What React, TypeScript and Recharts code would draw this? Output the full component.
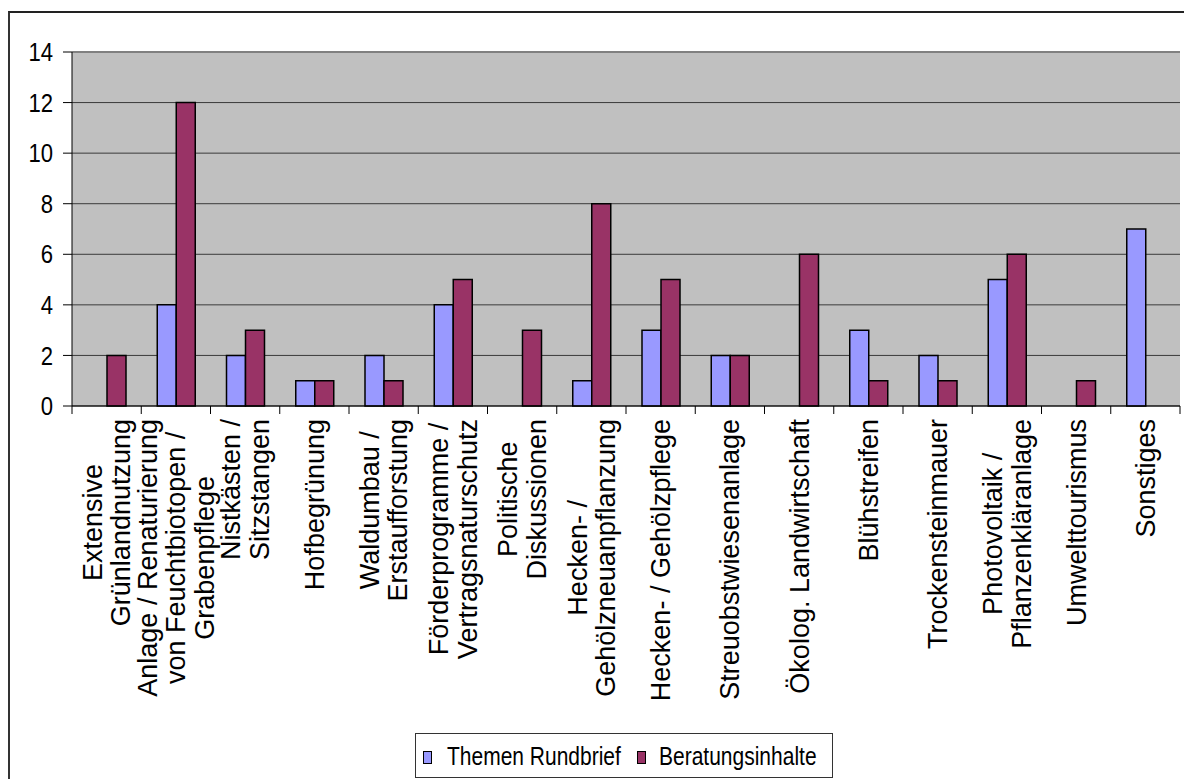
import React from "react";
import {
  BarChart,
  Bar,
  XAxis,
  YAxis,
  CartesianGrid,
  ReferenceLine,
} from "recharts";

// ---------- data ----------
const categories: string[] = [
  "Extensive\nGrünlandnutzung",
  "Anlage / Renaturierung\nvon Feuchtbiotopen /\nGrabenpflege",
  "Nistkästen /\nSitzstangen",
  "Hofbegrünung",
  "Waldumbau /\nErstaufforstung",
  "Förderprogramme /\nVertragsnaturschutz",
  "Politische\nDiskussionen",
  "Hecken- /\nGehölzneuanpflanzung",
  "Hecken- / Gehölzpflege",
  "Streuobstwiesenanlage",
  "Ökolog. Landwirtschaft",
  "Blühstreifen",
  "Trockensteinmauer",
  "Photovoltaik /\nPflanzenkläranlage",
  "Umwelttourismus",
  "Sonstiges",
];

const themenRundbrief: number[] = [0, 4, 2, 1, 2, 4, 0, 1, 3, 2, 0, 3, 2, 5, 0, 7];
const beratungsinhalte: number[] = [2, 12, 3, 1, 1, 5, 3, 8, 5, 2, 6, 1, 1, 6, 1, 0];

const yTicks: number[] = [0, 2, 4, 6, 8, 10, 12, 14];

const seriesNames = ["Themen Rundbrief", "Beratungsinhalte"];
const seriesColors = ["#9999FF", "#993366"];

const data = categories.map((c, i) => ({
  name: c,
  rundbrief: themenRundbrief[i],
  beratung: beratungsinhalte[i],
}));

// ---------- layout ----------
const W = 1184;
const H = 779;
const PLOT_LEFT = 72;
const PLOT_RIGHT = 1180;
const PLOT_TOP = 52;
const PLOT_BOTTOM = 406;
const BAND = (PLOT_RIGHT - PLOT_LEFT) / categories.length;
const FONT = '"Liberation Sans", Arial, Helvetica, sans-serif';
const X_FS = 27;
const LINE_SPACING = 28.5;
const LABEL_TOP = 419;

let ctx: CanvasRenderingContext2D | null = null;
function measure(s: string): number {
  if (!ctx) {
    const c = document.createElement("canvas");
    ctx = c.getContext("2d");
  }
  if (!ctx) return s.length * X_FS * 0.55;
  ctx.font = `${X_FS}px "Liberation Sans", Arial, sans-serif`;
  return ctx.measureText(s).width;
}

const XTick = (props: any) => {
  const { x, payload, index } = props;
  const lines: string[] = String(payload.value).split("\n");
  const maxLen = Math.max(...lines.map(measure));
  const cy = LABEL_TOP + maxLen / 2;
  const n = lines.length;
  return (
    <g>
      <line
        x1={x - BAND / 2}
        x2={x - BAND / 2}
        y1={PLOT_BOTTOM}
        y2={PLOT_BOTTOM + 8}
        stroke="#000"
        strokeWidth={1}
      />
      {index === categories.length - 1 && (
        <line
          x1={x + BAND / 2}
          x2={x + BAND / 2}
          y1={PLOT_BOTTOM}
          y2={PLOT_BOTTOM + 8}
          stroke="#000"
          strokeWidth={1}
        />
      )}
      {lines.map((l, i) => {
        const lx = x + (i - (n - 1) / 2) * LINE_SPACING + 0.35 * X_FS;
        return (
          <text
            key={i}
            transform={`translate(${lx},${cy}) rotate(-90)`}
            textAnchor="middle"
            fontSize={X_FS}
            fontFamily={FONT}
            fill="#000"
          >
            {l}
          </text>
        );
      })}
    </g>
  );
};

const YTick = (props: any) => {
  const { x, y, payload } = props;
  return (
    <text
      transform={`translate(${x},${y}) scale(0.85,1)`}
      textAnchor="end"
      dy="0.35em"
      fontSize={26}
      fontFamily={FONT}
      fill="#000"
    >
      {payload.value}
    </text>
  );
};

const LegendBox = () => {
  const items = [
    { sx: 423, tx: 447 },
    { sx: 637, tx: 659 },
  ];
  return (
    <svg
      width={W}
      height={H}
      style={{ position: "absolute", left: 0, top: 0, pointerEvents: "none" }}
    >
      <rect x={415.5} y={733.5} width={417} height={44} fill="#fff" stroke="#333" strokeWidth={1} />
      {items.map((it, i) => (
        <g key={i}>
          <rect
            x={it.sx + 0.5}
            y={751.5}
            width={8}
            height={12}
            fill={seriesColors[i]}
            stroke="#000"
            strokeWidth={1}
          />
          <text
            transform={`translate(${it.tx},765) scale(0.84,1)`}
            fontSize={25}
            fontFamily={FONT}
            fill="#000"
          >
            {seriesNames[i]}
          </text>
        </g>
      ))}
    </svg>
  );
};

export default function App() {
  return (
    <div style={{ position: "relative", width: W, height: H, background: "#fff", overflow: "hidden" }}>
      <style>{"body{margin:0;}"}</style>
      <div
        style={{
          position: "absolute",
          left: 8,
          top: 11,
          width: W - 8,
          height: H - 11,
          borderTop: "2px solid #222",
          borderLeft: "2px solid #333",
          boxSizing: "border-box",
        }}
      />
      <div style={{ position: "absolute", left: 0, top: 0 }}>
        <BarChart
          width={W}
          height={H}
          data={data}
          margin={{ top: PLOT_TOP, right: W - PLOT_RIGHT, left: 12, bottom: 0 }}
          barGap={0}
          barSize={19}
        >
          <CartesianGrid vertical={false} fill="#C0C0C0" fillOpacity={1} stroke="#3a3a3a" strokeWidth={1} />
          <XAxis
            dataKey="name"
            interval={0}
            height={H - PLOT_BOTTOM}
            tickLine={false}
            axisLine={{ stroke: "#000", strokeWidth: 1 }}
            tick={<XTick />}
          />
          <YAxis
            width={PLOT_LEFT - 12}
            domain={[0, 14]}
            ticks={yTicks}
            interval={0}
            tickSize={9}
            tickMargin={10}
            axisLine={{ stroke: "#000", strokeWidth: 1 }}
            tickLine={{ stroke: "#000", strokeWidth: 1 }}
            tick={<YTick />}
          />
          <YAxis
            yAxisId="right"
            orientation="right"
            width={0}
            tick={false}
            tickLine={false}
            axisLine={{ stroke: "#808080", strokeWidth: 2 }}
          />
          <ReferenceLine y={14} stroke="#808080" strokeWidth={2} />
          <Bar
            dataKey="rundbrief"
            name={seriesNames[0]}
            fill={seriesColors[0]}
            stroke="#000"
            strokeWidth={1.5}
            isAnimationActive={false}
          />
          <Bar
            dataKey="beratung"
            name={seriesNames[1]}
            fill={seriesColors[1]}
            stroke="#000"
            strokeWidth={1.5}
            isAnimationActive={false}
          />
        </BarChart>
      </div>
      <LegendBox />
    </div>
  );
}
